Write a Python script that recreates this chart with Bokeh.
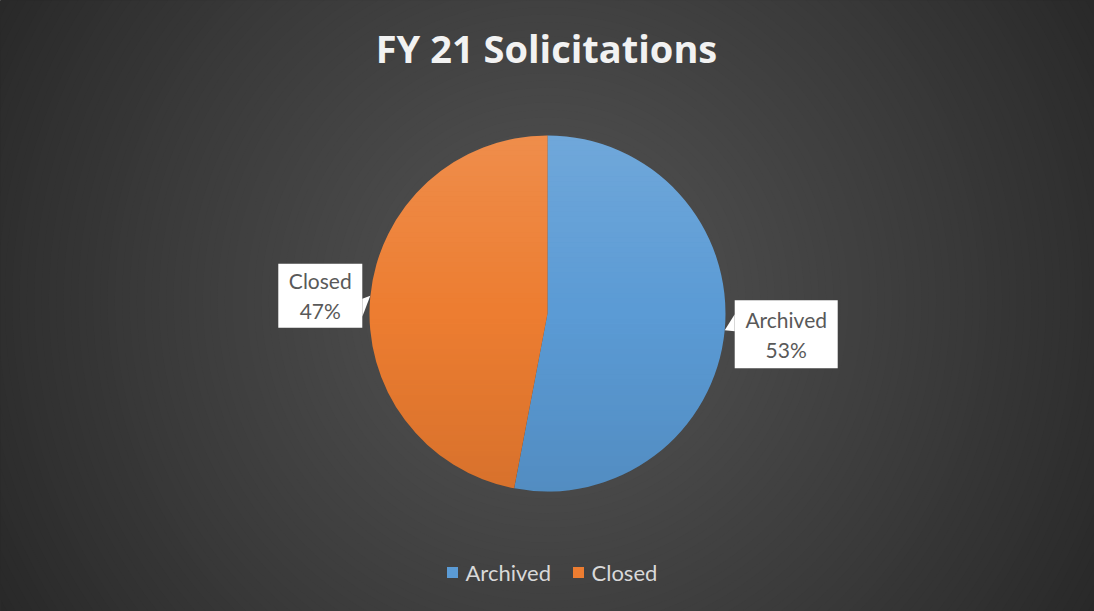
import numpy as np
from bokeh.plotting import figure
from bokeh.models import Range1d
from bokeh.core.properties import value
from bokeh.embed import file_html
from bokeh.resources import INLINE

# ---- data ----
title = "FY 21 Solicitations"
categories = ["Archived", "Closed"]
values = [53, 47]
colors = ["#5b9bd5", "#ed7d31"]

W, H = 1094, 611
FONT = value("Lato")

def fy(y):
    return H - y

p = figure(width=W, height=H, x_range=Range1d(0, W), y_range=Range1d(0, H),
           min_border=0, output_backend="svg", toolbar_location=None)
p.axis.visible = False
p.grid.visible = False
p.outline_line_color = None
p.background_fill_color = "#262626"
p.border_fill_color = "#262626"

# ---- radial background gradient ----
gx, gy = 547, fy(300)
n_bg = 90
rmax = 660
c_out = np.array([0x26, 0x26, 0x26])
c_in = np.array([0x55, 0x55, 0x55])
radii, bgcols = [], []
for i in range(n_bg):
    r = rmax * (1 - i / n_bg)
    t = (i / n_bg) ** 0.9
    c = (c_out + (c_in - c_out) * t).astype(int)
    radii.append(r)
    bgcols.append("#%02x%02x%02x" % tuple(c))
p.circle(x=[gx] * n_bg, y=[gy] * n_bg, radius=radii, fill_color=bgcols,
         line_color=None)

# ---- pie ----
cx, cy, R = 547, fy(313), 178
total = float(sum(values))
fracs = [v / total for v in values]
cum = np.concatenate([[0], np.cumsum(fracs)])
starts = [np.pi / 2 - 2 * np.pi * cum[i] for i in range(len(values))]
ends = [np.pi / 2 - 2 * np.pi * cum[i + 1] for i in range(len(values))]
p.wedge(x=[cx] * len(values), y=[cy] * len(values), radius=R,
        start_angle=starts, end_angle=ends, direction="clock",
        fill_color=colors, line_color=None)

# vertical gradient overlay clipped to circle
n_b = 70
xs_b, ys_b, cols_b, alphas_b = [], [], [], []
edges = np.linspace(cy + R, cy - R, n_b + 1)
for i in range(n_b):
    y0, y1 = edges[i], edges[i + 1]
    yy = np.linspace(y0, y1, 6)
    half = np.sqrt(np.clip(R ** 2 - (yy - cy) ** 2, 0, None))
    xs_b.append(list(cx - half) + list((cx + half)[::-1]))
    ys_b.append(list(yy) + list(yy[::-1]))
    t = (i + 0.5) / n_b  # 0 top -> 1 bottom
    if t < 0.5:
        cols_b.append("white")
        alphas_b.append(0.13 * (0.5 - t) / 0.5)
    else:
        cols_b.append("black")
        alphas_b.append(0.09 * (t - 0.5) / 0.5)
p.patches(xs=xs_b, ys=ys_b, fill_color=cols_b, fill_alpha=alphas_b,
          line_color=None)

# ---- data labels with callouts ----
box_w = [103, 84]
box_h = [68, 64]
for i, (cat, v) in enumerate(zip(categories, values)):
    mid = (starts[i] + ends[i]) / 2
    tx, ty = cx + R * np.cos(mid), cy + R * np.sin(mid)
    if np.cos(mid) >= 0:
        bx0 = tx + 10
        bx1 = bx0 + box_w[i]
        bcy = ty - 4
        side = bx0
        base = [(side, ty + 16), (tx, ty), (side, ty - 1)]
    else:
        bx1 = tx - 8
        bx0 = bx1 - box_w[i]
        bcy = ty + 1
        side = bx1
        base = [(side, ty - 2), (tx, ty + 1), (side, ty - 20)]
    by0, by1 = bcy - box_h[i] / 2, bcy + box_h[i] / 2
    p.quad(left=bx0, right=bx1, bottom=by0, top=by1, fill_color="white",
           line_color=None)
    p.patch(x=[b[0] for b in base], y=[b[1] for b in base],
            fill_color="white", line_color=None)
    bxc = (bx0 + bx1) / 2
    p.text(x=[bxc, bxc], y=[bcy + 15, bcy - 15], text=[cat, f"{v}%"],
           text_font=FONT, text_font_size="21px", text_color="#595959",
           text_align="center", text_baseline="middle")

# ---- title ----
p.text(x=[546], y=[fy(47)], text=[title], text_font=value("Open Sans"),
       text_font_size="38px", text_font_style="bold", text_color="#f2f2f2",
       text_align="center", text_baseline="middle")

# ---- legend ----
leg_x = [452, 578]
for i, cat in enumerate(categories):
    p.rect(x=[leg_x[i]], y=[fy(572)], width=11, height=11,
           fill_color=colors[i], line_color=None)
    p.text(x=[leg_x[i] + 13], y=[fy(572)], text=[cat], text_font=FONT,
           text_font_size="22px", text_color="#d9d9d9", text_align="left",
           text_baseline="middle")

open("out.html", "w").write(file_html(p, INLINE))
